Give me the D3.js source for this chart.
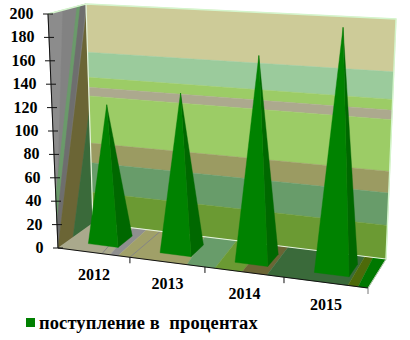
<!DOCTYPE html>
<html>
<head>
<meta charset="utf-8">
<script src="https://d3js.org/d3.v7.min.js"></script>
<style>
body { margin: 0; background: #fff; }
text { font-family: "Liberation Serif", serif; font-weight: bold; fill: #000; white-space: pre; }
</style>
</head>
<body>
<svg id="chart" width="410" height="340"></svg>
<script>
var categories = ['2012', '2013', '2014', '2015'];
var values = [118, 133, 169, 196];
var yTicks = [0, 20, 40, 60, 80, 100, 120, 140, 160, 180, 200];
var legendLabel = 'поступление в  процентах';

// picture fill of the back wall, value where each band ends
var wallEdges = [200, 156, 133, 124, 116, 73, 55, 28, 0];
var wallColors = ['#cdcb98', '#9bcb9c', '#9ccc66', '#aca98e', '#9ccc66', '#9b9b62', '#689c6a', '#6b9a33'];

// same picture stretched on the floor: [front start, back start, front end, back end]
var floorStrips = [
    [0, 0, 0.168, 0.137, '#aaa98c'],
    [0.168, 0.137, 0.194, 0.184, '#8f8f8f'],
    [0.194, 0.184, 0.416, 0.382, '#a0a068'],
    [0.416, 0.382, 0.506, 0.49, '#689c6a'],
    [0.506, 0.49, 0.594, 0.585, '#6b9a33'],
    [0.594, 0.585, 0.674, 0.666, '#6b6535'],
    [0.674, 0.666, 0.935, 0.928, '#3a6a3a'],
    [0.935, 0.928, 0.968, 0.956, '#4d6a0a'],
    [0.968, 0.956, 1, 1, '#007800']
];
var floorLines = [[0.142, 0.11], [0.232, 0.23]];

// and on the side wall: [depth, value] corners
var sideStrips = [
    [[[0, 0], [0, 200], [1, 200], [1, 0]], '#828282'],
    [[[0, 40], [0, 200], [0.38, 200], [0, 30]], '#8c8c8c'],
    [[[0.76, 200], [0.85, 200], [0, 22], [0, 45]], '#6a9a6a'],
    [[[0.85, 200], [1, 200], [0, 0], [0, 22]], '#6e6e6e'],
    [[[1, 192], [1, 103], [0.43, 0], [0, 0]], '#6b6535'],
    [[[1, 103], [1, 0], [0.43, 0]], '#3a6a3a']
];

const svg = d3.select('#chart');

// box corners seen in perspective: floor corners, and the way up from each
const floorFL = [58, 248], floorFR = [368, 288], floorBL = [93, 223], floorBR = [386, 259];
const upFL = [-10, -234], upFR = [9, -258], upBL = [-7, -219], upBR = [10, -240];

// categories get wider towards the viewer
var catScale = d3.scaleLinear().domain([0, 1, 2, 3, 4]).range([0, 0.232, 0.474, 0.729, 1]);
var valScale = d3.scaleLinear().domain([0, 200]).range([0, 1]);

function mix(a, b, t) {
    return [a[0] + (b[0] - a[0]) * t, a[1] + (b[1] - a[1]) * t];
}

function project(u, w, val) {
    var base = mix(mix(floorFL, floorFR, u), mix(floorBL, floorBR, u), w);
    var up = mix(mix(upFL, upFR, u), mix(upBL, upBR, u), w);
    var t = valScale(val);
    return [base[0] + up[0] * t, base[1] + up[1] * t];
}

var path = d3.line().curve(d3.curveLinearClosed);

function poly(points, fill) {
    return svg.append('path').attr('d', path(points)).attr('fill', fill).attr('stroke', fill).attr('stroke-width', 0.4);
}

// side wall
sideStrips.forEach(s => poly(s[0].map(p => project(0, p[0], p[1])), s[1]));

// back wall
wallColors.forEach((c, i) => {
    poly([project(0, 1, wallEdges[i]), project(1, 1, wallEdges[i]), project(1, 1, wallEdges[i + 1]), project(0, 1, wallEdges[i + 1])], c);
});

// floor
floorStrips.forEach(s => {
    poly([project(s[0], 0, 0), project(s[2], 0, 0), project(s[3], 1, 0), project(s[1], 1, 0)], s[4]);
});
floorLines.forEach(l => {
    svg.append('line')
        .attr('x1', project(l[0], 0, 0)[0]).attr('y1', project(l[0], 0, 0)[1])
        .attr('x2', project(l[1], 1, 0)[0]).attr('y2', project(l[1], 1, 0)[1])
        .attr('stroke', '#858585').attr('stroke-width', 1);
});

// pale edges of the walls
var edge = d3.line();
svg.append('path')
    .attr('d', edge([project(0, 0, 200), project(0, 1, 200), project(1, 1, 200), project(1, 1, 0)]))
    .attr('fill', 'none').attr('stroke', '#d4f5cc').attr('stroke-width', 1.4);
svg.append('path')
    .attr('d', edge([project(0, 1, 200), project(0, 1, 0), project(1, 1, 0)]))
    .attr('fill', 'none').attr('stroke', '#e6f5dc').attr('stroke-width', 1.2);
svg.append('path')
    .attr('d', edge([project(1, 1, 0), project(1, 0, 0)]))
    .attr('fill', 'none').attr('stroke', '#b8c8b0').attr('stroke-width', 1);

// pyramids
const barHalf = 0.21, barFront = 0.28, barBack = 0.72;
values.forEach((v, i) => {
    var uL = catScale(i + 0.5 - barHalf), uR = catScale(i + 0.5 + barHalf), uC = catScale(i + 0.5);
    var apex = project(uC, 0.5, v);
    poly([project(uR, barFront, 0), project(uR, barBack, 0), apex], '#006800');
    poly([project(uL, barFront, 0), project(uR, barFront, 0), apex], '#008200');
});

// axes
var axisPath = d3.line();
svg.append('path')
    .attr('d', axisPath([project(0, 0, 200), project(0, 0, 0), project(1, 0, 0)]))
    .attr('fill', 'none').attr('stroke', '#111').attr('stroke-width', 1);

var yTick = svg.selectAll('.ytick').data(yTicks).enter().append('g').attr('class', 'ytick');
yTick.append('line')
    .attr('x1', d => project(0, 0, d)[0] - 5)
    .attr('x2', d => project(0, 0, d)[0] + 5)
    .attr('y1', d => project(0, 0, d)[1])
    .attr('y2', d => project(0, 0, d)[1])
    .attr('stroke', '#111');
yTick.append('text')
    .attr('x', d => project(0, 0, d)[0] - 14.5)
    .attr('y', d => project(0, 0, d)[1] + 5)
    .attr('text-anchor', 'end')
    .attr('font-size', 16)
    .text(d => d);

d3.range(1, 5).forEach(i => {
    var p = project(catScale(i), 0, 0);
    svg.append('line')
        .attr('x1', p[0]).attr('x2', p[0]).attr('y1', p[1]).attr('y2', p[1] + 6)
        .attr('stroke', i == 4 ? '#777' : '#111');
});

svg.selectAll('.xlabel').data(categories).enter().append('text')
    .attr('class', 'xlabel')
    .attr('x', (d, i) => project(catScale(i + 0.5), 0, 0)[0])
    .attr('y', (d, i) => project(catScale(i + 0.5), 0, 0)[1] + 27)
    .attr('text-anchor', 'middle')
    .attr('font-size', 16)
    .text(d => d);

// legend
svg.append('rect').attr('x', 26).attr('y', 318).attr('width', 9).attr('height', 9).attr('fill', '#008000');
svg.append('text').attr('x', 39).attr('y', 329).attr('font-size', 18.5).attr('letter-spacing', 0.1).text(legendLabel);
</script>
</body>
</html>
